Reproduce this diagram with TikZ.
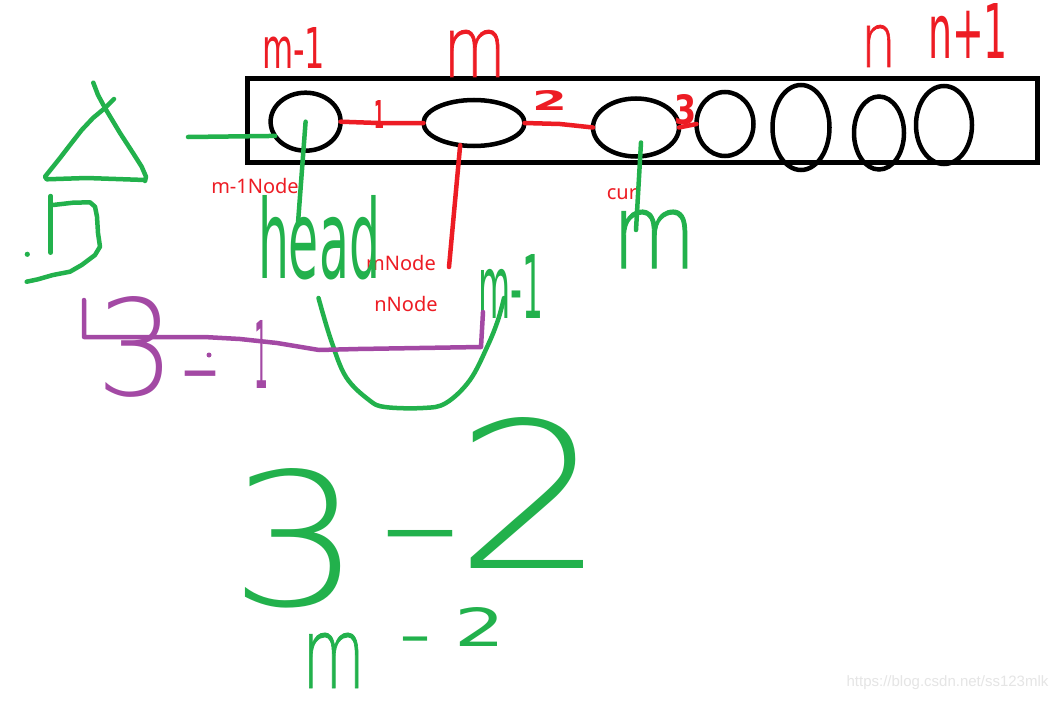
\documentclass[tikz,border=0pt]{standalone}
\usepackage{fontspec}
\usepackage{graphicx}
\usetikzlibrary{shapes.geometric,calc}
\newfontfamily\handlight{DejaVu Sans ExtraLight}
\newfontfamily\handmid[FakeBold=1]{DejaVu Sans ExtraLight}
\newfontfamily\handreg{DejaVu Sans}
\newfontfamily\handbold{DejaVu Sans Bold}
\newfontfamily\labelfont{Noto Sans}
\newfontfamily\wmfont{Liberation Sans}
\definecolor{pred}{HTML}{ED1C24}
\definecolor{pgreen}{HTML}{22B14C}
\definecolor{ppurple}{HTML}{A349A4}
% font, colour, name, left-bottom, width, height, text
\newcommand\hw[7]{\node[hand,text=#2] (#3) at (#4) {\resizebox{#5pt}{#6pt}{#1#7}};}
% font, colour, name, left-top, width
\newcommand\hwdash[5]{\node[anchor=north west,inner sep=0pt,outer sep=0pt,text=#2] (#3) at (#4) {\resizebox{#5pt}{!}{#1–}};}
\begin{document}
\begin{tikzpicture}[x=1pt,y=-1pt,
  pen/.style={line width=4.5pt,line cap=round,line join=round},
  redpen/.style={pen,draw=pred},
  greenpen/.style={pen,draw=pgreen},
  purplepen/.style={pen,draw=ppurple},
  cell/.style={ellipse,draw=black,line width=4.5pt,inner sep=0pt,outer sep=0pt},
  hand/.style={anchor=south west,inner sep=0pt,outer sep=0pt},
  lbl/.style={text=pred,font=\labelfont\fontsize{20}{24}\selectfont,inner sep=0pt}]
\fill[white] (0,0) rectangle (1063,701);
\useasboundingbox (0,0) rectangle (1063,701);

% list box
\node[draw=black,line width=5pt,minimum width=790pt,minimum height=83pt,inner sep=0pt] (board) at (642,120.5) {};

% list cells
\node[cell,minimum width=70pt,minimum height=58pt] (e1) at (305.6,121.7) {};
\node[cell,minimum width=101pt,minimum height=46pt] (e2) at (474,123) {};
\node[cell,minimum width=86pt,minimum height=58pt] (e3) at (636,127.5) {};
\node[cell,minimum width=57pt,minimum height=64pt] (e4) at (725,124) {};
\node[cell,minimum width=57pt,minimum height=85pt] (e5) at (801,127.5) {};
\node[cell,minimum width=50pt,minimum height=73pt] (e6) at (879,133) {};
\node[cell,minimum width=56pt,minimum height=78pt] (e7) at (944,125) {};

% typed labels
\node[lbl] (lm1) at (255,186) {m-1Node};
\node[lbl] (lmn) at (401,263) {mNode};
\node[lbl] (lnn) at (406,304) {nNode};
\node[lbl] (lcur) at (622,194) {cur};

% red links
\draw[redpen] (e1.east) -- (378,123) -- (e2.west);
\draw[redpen] (e2.east) -- (560,124) -- (e3.west);
\draw[redpen] (e3.east) -- (e4.west);
\coordinate (me) at (449,267);
\draw[redpen] (e2.-122) -- (me);

% red handwriting
\hw{\handreg}{pred}{tM1}{262,68}{63}{41}{m-1}
\hw{\handmid}{pred}{tM}{443,77}{63}{47}{m}
\hw{\handmid}{pred}{tN}{861,67}{35}{42}{n}
\hw{\handreg}{pred}{tN1}{928,58}{80}{55}{n+1}
\hw{\handbold}{pred}{tOne}{374,128}{10}{28}{1}
\hw{\handbold}{pred}{tTwo}{532,110}{35}{20}{2}
\hw{\handbold}{pred}{tThree}{674,125}{22}{30}{3}

% green pointers
\coordinate (gl) at (188,137);
\draw[greenpen] (gl) -- (e1.205);
\coordinate (hd) at (298,223);
\draw[greenpen] (e1.center) -- (hd);
\coordinate (ce) at (636,230);
\draw[greenpen] ($(e3.center)+(5,15)$) -- (ce);

% green triangle and D
\draw[greenpen] (93.3,82.7) -- (98,95) -- (105,108) -- (120,133) -- (133,153) -- (141.7,166.7) -- (146,176.7) -- (145,181);
\draw[greenpen] (114,99) -- (105,108) -- (93,118) -- (81.7,130) -- (70,145) -- (60,158) -- (45,176.7) -- (46.7,179.3) -- (86.7,178) -- (145,180);
\draw[greenpen] (50.7,196) -- (50.7,252.7);
\draw[greenpen] (53,205) -- (73,202.7) -- (90,202.3) -- (95,206.7) -- (97,216.7) -- (98,233) -- (100,246.7) -- (95,255) -- (81.7,265) -- (70,271.7) -- (53,275) -- (38,279.3) -- (26.7,281.7);
\fill[pgreen] (27.3,254.3) circle (2.6);

% green U curve
\draw[greenpen] plot[smooth,tension=0.6] coordinates {(318.5,298) (331,340) (346,377) (369,400) (385,407) (423,408) (446,403) (470,380) (488,345) (498,320) (504,298)};

% green handwriting
\hw{\handreg}{pgreen}{tHead}{258,280}{122}{83}{head}
\hw{\handmid}{pgreen}{tCurM}{612,268}{84}{58}{m}
\hw{\handreg}{pgreen}{tNM1}{478,318}{65}{64}{m-1}
\hw{\handlight}{pgreen}{tBig3}{229,608}{133}{137}{3}
\hwdash{\handlight}{pgreen}{tBigDash}{380,530}{80}
\hw{\handlight}{pgreen}{tBig2}{454,568}{153}{151}{2}
\hw{\handmid}{pgreen}{tSmM}{302,688}{63}{55}{m}
\hwdash{\handreg}{pgreen}{tSmDash}{400,637}{30}
\hw{\handreg}{pgreen}{tSm2}{454,646}{51}{39}{2}

% purple
\draw[purplepen] (84,300) -- (84,337) -- (204,337) -- (240,339) -- (277,343) -- (319,350) -- (358,349) -- (481,347) -- (483,312);
\hw{\handlight}{ppurple}{tP3}{96,397}{79}{99}{3}
\hwdash{\handreg}{ppurple}{tPDash}{181,371}{38}
\fill[ppurple] (209,355) circle (2.5);
\hw{\handreg}{ppurple}{tP1}{254,388}{14}{68}{1}

% watermark
\node[text=black!10,font=\wmfont\fontsize{15}{18}\selectfont,inner sep=0pt] (wm) at (947.5,682.5) {https://blog.csdn.net/ss123mlk};
\end{tikzpicture}
\end{document}
